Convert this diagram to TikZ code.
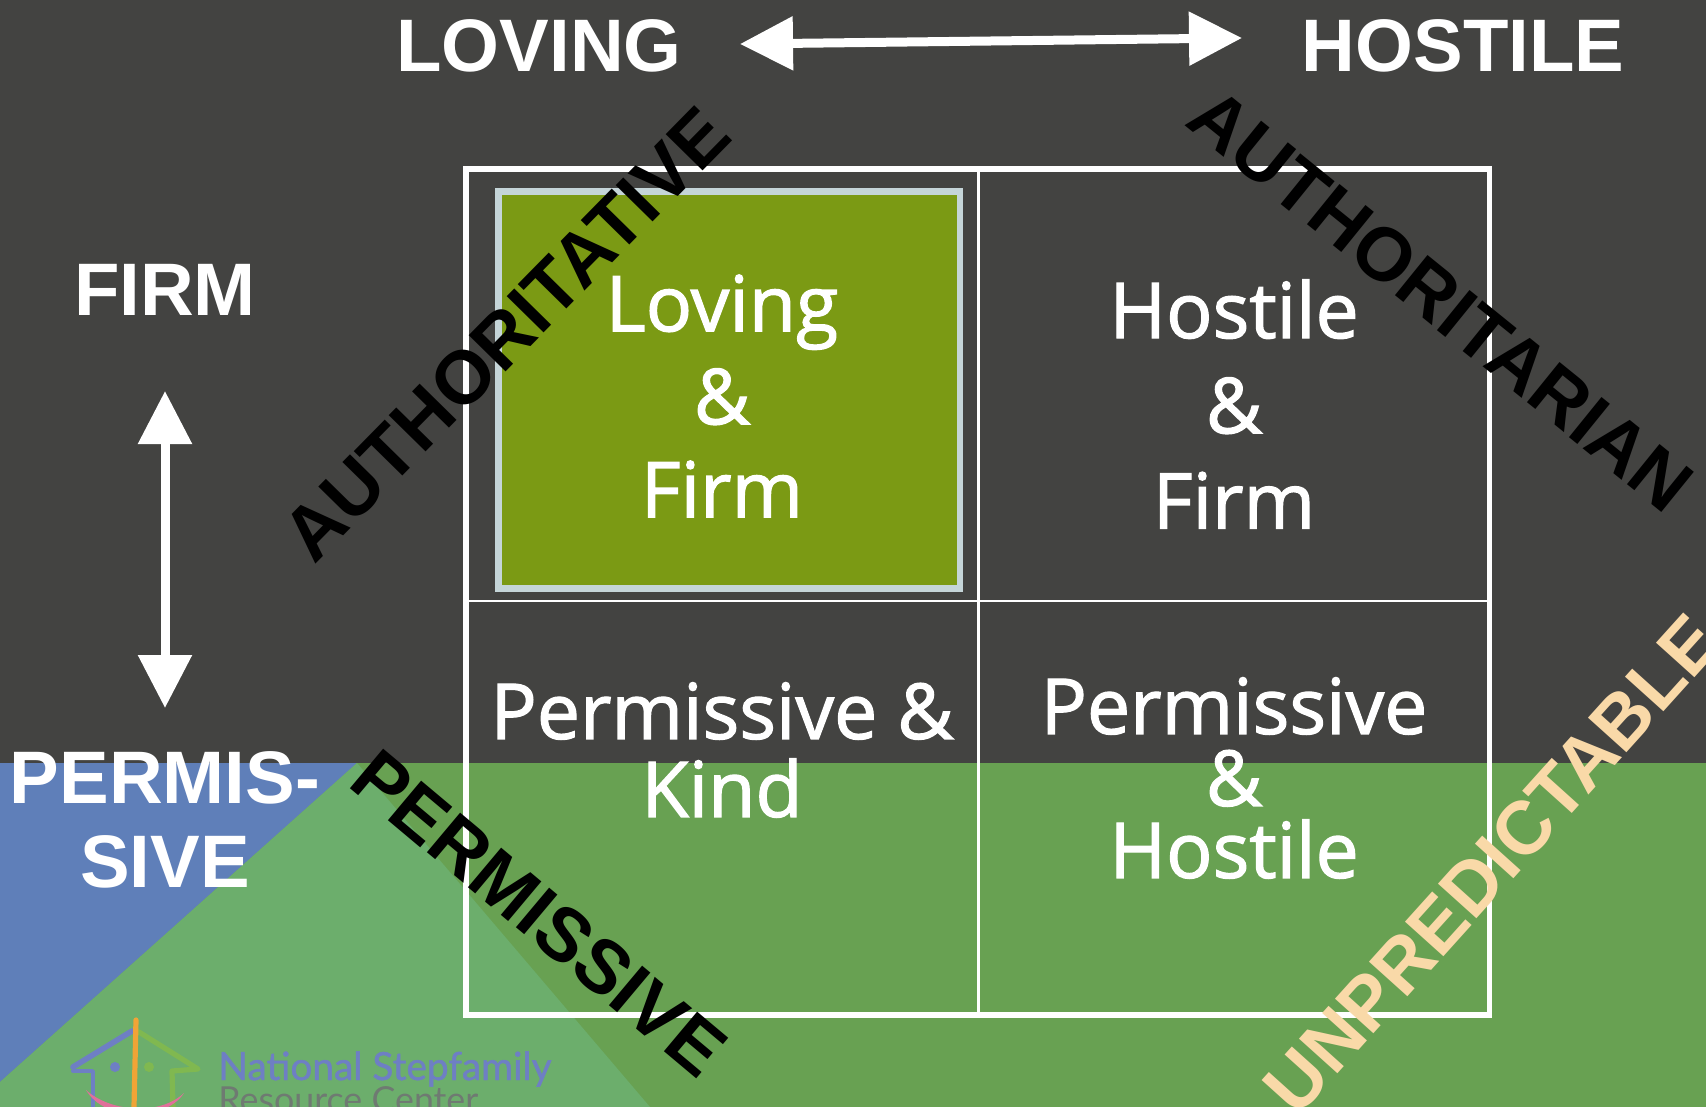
\documentclass[tikz,border=0pt]{standalone}
\usepackage{fontspec}
\setmainfont{Liberation Sans}
\newfontfamily\cellfont[FakeBold=1.6]{Open Sans}
\newfontfamily\logofont[FakeBold=1.2]{Lato}
\newfontfamily\logolight{Lato}
\usetikzlibrary{arrows.meta}
\definecolor{bgdark}{HTML}{434341}
\definecolor{bggreen}{HTML}{68A152}
\definecolor{lightgreen}{HTML}{6CAE6C}
\definecolor{bgblue}{HTML}{5F7FB9}
\definecolor{boxgreen}{HTML}{7B9A14}
\definecolor{boxedge}{HTML}{C5D5D8}
\definecolor{peach}{HTML}{F9D9A8}
\definecolor{logoblue}{HTML}{6E7FC4}
\definecolor{logogrey}{HTML}{6F7A72}
\definecolor{logoroofgreen}{HTML}{80B850}
\definecolor{logoorange}{HTML}{F0A436}
\definecolor{logopink}{HTML}{E0709A}
\tikzset{
  axislabel/.style={text=white,font=\bfseries\fontsize{37.2}{40}\selectfont,inner sep=0pt,align=center},
  stylelabel/.style={font=\bfseries\fontsize{37.6}{40}\selectfont,inner sep=0pt},
  celltext/.style={text=white,font=\cellfont\fontsize{38.5}{#1}\selectfont,inner sep=0pt,align=center},
  bigarrow/.style={draw=white,line width=4.5pt,{Triangle[length=26.5pt,width=26pt,fill=white]}-{Triangle[length=26.5pt,width=26pt,fill=white]},shorten >=0pt,shorten <=0pt},
  gridline/.style={draw=white,line width=1.4pt}
}
\begin{document}
\begin{tikzpicture}[x=0.5pt,y=-0.5pt]
\useasboundingbox (0,0) rectangle (1706,1107);
\clip (0,0) rectangle (1706,1107);
\fill[bgdark] (0,0) rectangle (1706,1107);
\fill[bggreen] (0,763) rectangle (1706,1107);
\fill[bgblue] (0,763) -- (357,763) -- (0,1082) -- cycle;
\fill[lightgreen] (357,763) -- (0,1082) -- (0,1107) -- (650,1107) -- cycle;
% logo
\begin{scope}[line cap=round,line join=round]
\draw[draw=logoblue,line width=2.8pt] (132,1031) -- (73,1067);
\draw[draw=logoblue,line width=2pt] (73,1071) -- (92,1071);
\draw[draw=logoblue,line width=2.4pt] (93,1072) -- (93,1107);
\fill[logoblue] (115,1067) circle (5);
\draw[draw=logoroofgreen,line width=2.6pt] (139,1032) -- (198,1069) -- (172,1071) -- (173,1107);
\fill[logoroofgreen] (149,1067) circle (5);
\draw[draw=logoorange,line width=2.6pt] (136,1020) -- (134,1107);
\fill[logopink] (86,1090) .. controls (110,1112) and (160,1116) .. (184,1093) .. controls (165,1122) and (105,1122) .. (86,1090) -- cycle;
\end{scope}
\node[anchor=base west,inner sep=0pt,text=logoblue,font=\logofont\fontsize{19.4}{20}\selectfont] (logoa) at (218,1080) {National Stepfamily};
\node[anchor=base west,inner sep=0pt,text=logogrey,font=\logolight\fontsize{17.9}{20}\selectfont] (logob) at (218,1112) {Resource Center};
% grid
\fill[boxedge] (495,188) rectangle (963,592);
\fill[boxgreen] (502,195) rectangle (957,585);
\draw[gridline,line width=2.9pt] (466,169) rectangle (1489.5,1014.7);
\draw[gridline] (978.5,169) -- (978.5,1014.7);
\draw[gridline] (466,601) -- (1492,601);
% cell text
\node[celltext=46.5] (lf) at (722,396) {Loving\\\&\\Firm};
\node[celltext=47.6] (hf) at (1234,404) {Hostile\\\&\\Firm};
\node[celltext=39] (pk) at (722,750) {Permissive \&\\Kind};
\node[celltext=36] (ph) at (1234,778) {Permissive\\\&\\Hostile};
% axis labels
\node[axislabel] (loving) at (539,46) {LOVING};
\node[axislabel] (hostile) at (1463,46) {HOSTILE};
\node[axislabel] (firm) at (165,290) {FIRM};
\node[axislabel] (permis) at (165,820) {PERMIS-\\[2pt]SIVE};
\coordinate (hl) at (740,44);
\coordinate (hr) at (1242,38);
\coordinate (vt) at (165,391);
\coordinate (vb) at (165,708);
\draw[bigarrow] (hl) -- (hr);
\draw[bigarrow] (vt) -- (vb);
% diagonal labels
\node[stylelabel,rotate=45.5,text=black] (authv) at (506,334) {AUTHORITATIVE};
\node[stylelabel,rotate=-39,text=black] (autha) at (1441,300) {AUTHORITARIAN};
\node[stylelabel,rotate=-40,text=black] (perm) at (539,913) {PERMISSIVE};
\node[stylelabel,rotate=48,text=peach] (unpred) at (1492,864) {UNPREDICTABLE};
\end{tikzpicture}
\end{document}
